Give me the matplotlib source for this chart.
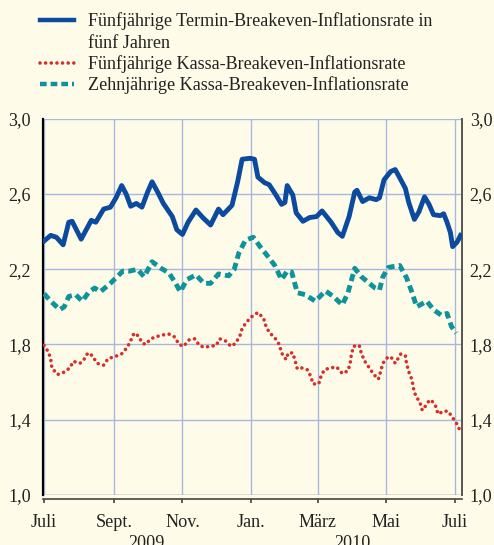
"""
Breakeven-Inflationsraten im Euroraum, Juli 2009 - Juli 2010
"""

import numpy as np
import matplotlib
matplotlib.use('Agg')
import matplotlib.pyplot as plt
import matplotlib.dates as mdates
import matplotlib.transforms as mtransforms
from matplotlib.lines import Line2D

START = np.datetime64('2009-07-01')

# Fünfjährige Termin-Breakeven-Inflationsrate in fünf Jahren (Tage seit 1.7.2009, Wert)
fwd_days = [0, 6, 11, 17, 22, 25, 33, 42, 46, 53, 59, 64, 69, 73, 77, 82, 87, 92, 96,
            101, 106, 114, 118, 123, 128, 135, 141, 148, 155, 159, 167, 172, 176, 183,
            187, 190, 196, 200, 206, 211, 214, 216, 221, 224, 230, 236, 242, 247, 255,
            261, 265, 271, 276, 278, 283, 289, 295, 298, 302, 308, 312, 317, 321, 324,
            329, 333, 338, 342, 346, 352, 355, 358, 361, 363, 367, 370]
fwd_vals = [2.35, 2.38, 2.37, 2.33, 2.45, 2.455, 2.36, 2.46, 2.45, 2.52, 2.53, 2.58,
            2.645, 2.60, 2.535, 2.55, 2.53, 2.61, 2.665, 2.61, 2.55, 2.48, 2.41, 2.385,
            2.45, 2.515, 2.475, 2.435, 2.52, 2.49, 2.54, 2.665, 2.785, 2.79, 2.785, 2.69,
            2.66, 2.65, 2.595, 2.545, 2.555, 2.645, 2.595, 2.50, 2.455, 2.475, 2.48,
            2.51, 2.45, 2.395, 2.375, 2.48, 2.61, 2.62, 2.56, 2.58, 2.57, 2.58, 2.675,
            2.72, 2.73, 2.675, 2.63, 2.555, 2.465, 2.505, 2.585, 2.545, 2.49, 2.485,
            2.495, 2.45, 2.395, 2.32, 2.345, 2.38]

# Fünfjährige Kassa-Breakeven-Inflationsrate
spot5_days = [0, 4, 6, 7, 12, 17, 23, 26, 32, 35, 39, 43, 47, 53, 57, 63, 69, 74, 77,
              80, 84, 87, 90, 95, 99, 105, 111, 116, 120, 124, 129, 134, 138, 142, 148,
              153, 156, 161, 166, 170, 174, 176, 180, 185, 190, 195, 197, 200, 205, 209,
              211, 215, 217, 221, 223, 225, 229, 234, 237, 239, 244, 246, 249, 254, 260,
              265, 270, 272, 273, 275, 280, 282, 285, 289, 293, 297, 299, 301, 305, 308,
              312, 314, 317, 321, 322, 324, 327, 328, 330, 334, 336, 338, 342, 344, 348,
              350, 355, 359, 363, 367, 370]
spot5_vals = [1.795, 1.76, 1.72, 1.675, 1.64, 1.65, 1.675, 1.71, 1.70, 1.715, 1.755,
              1.74, 1.70, 1.69, 1.725, 1.735, 1.75, 1.785, 1.82, 1.86, 1.845, 1.81, 1.80,
              1.83, 1.84, 1.85, 1.855, 1.84, 1.80, 1.79, 1.825, 1.83, 1.795, 1.785, 1.79,
              1.795, 1.83, 1.82, 1.79, 1.805, 1.845, 1.885, 1.92, 1.95, 1.97, 1.94, 1.90,
              1.865, 1.835, 1.80, 1.755, 1.72, 1.755, 1.755, 1.715, 1.67, 1.675, 1.665,
              1.63, 1.59, 1.59, 1.63, 1.665, 1.675, 1.68, 1.645, 1.66, 1.70, 1.745, 1.79,
              1.795, 1.75, 1.71, 1.675, 1.64, 1.615, 1.655, 1.70, 1.73, 1.735, 1.70,
              1.72, 1.75, 1.74, 1.70, 1.655, 1.61, 1.57, 1.53, 1.49, 1.45, 1.465, 1.50,
              1.505, 1.47, 1.43, 1.445, 1.445, 1.41, 1.375, 1.335]

# Zehnjährige Kassa-Breakeven-Inflationsrate
spot10_days = [0, 6, 14, 18, 22, 28, 34, 40, 45, 50, 59, 70, 76, 83, 89, 96, 104, 111,
               117, 121, 127, 135, 142, 148, 155, 164, 169, 173, 179, 186, 192, 198, 205,
               211, 216, 220, 225, 232, 241, 250, 257, 265, 270, 276, 282, 294, 298, 301,
               306, 316, 322, 327, 331, 340, 346, 353, 358, 362, 366]
spot10_vals = [2.07, 2.03, 1.985, 2.0, 2.055, 2.065, 2.03, 2.08, 2.10, 2.08, 2.125,
               2.19, 2.19, 2.20, 2.16, 2.24, 2.205, 2.18, 2.125, 2.08, 2.145, 2.17, 2.125,
               2.125, 2.175, 2.165, 2.20, 2.285, 2.355, 2.37, 2.32, 2.275, 2.22, 2.145,
               2.19, 2.185, 2.075, 2.065, 2.03, 2.085, 2.055, 2.01, 2.075, 2.205, 2.16,
               2.10, 2.09, 2.16, 2.21, 2.22, 2.155, 2.075, 2.0, 2.03, 1.985, 1.955, 1.965,
               1.895, 1.86]

y_ticks = [1.0, 1.4, 1.8, 2.2, 2.6, 3.0]
month_dates = ['2009-07-01', '2009-09-01', '2009-11-01', '2010-01-01',
               '2010-03-01', '2010-05-01', '2010-07-01']
month_labels = ['Juli', 'Sept.', 'Nov.', 'Jan.', 'März', 'Mai', 'Juli']
year_labels = ['2009', '2010']

legend_lines = ['Fünfjährige Termin-Breakeven-Inflationsrate in',
                'fünf Jahren',
                'Fünfjährige Kassa-Breakeven-Inflationsrate',
                'Zehnjährige Kassa-Breakeven-Inflationsrate']

BG = '#fefce8'
BLUE = '#0b4a9e'
RED = '#d4302a'
TEAL = '#0e939b'
GRID = '#a9b6e2'
FS = 13.1

plt.rcParams['font.family'] = ['Liberation Serif', 'DejaVu Serif']


def to_dates(days):
    return START + np.array(days, dtype='timedelta64[D]')


def main():
    fig = plt.figure(figsize=(4.94, 5.45), dpi=100, facecolor=BG)
    ax = fig.add_axes([0.087, 0.092, 0.848, 0.690], facecolor=BG)

    ax.plot(to_dates(fwd_days), fwd_vals, color=BLUE, lw=3.5,
            solid_joinstyle='round', zorder=4)
    ax.plot(to_dates(spot5_days), spot5_vals, color=RED, lw=2.6,
            linestyle=(0, (0.01, 1.55)), dash_capstyle='round', zorder=3)
    ax.plot(to_dates(spot10_days), spot10_vals, color=TEAL, lw=3.5,
            linestyle=(0, (1.5, 0.9)), zorder=3)

    # axes limits and ticks
    ax.set_ylim(1.0, 3.0)
    ax.set_yticks(y_ticks)
    ax.set_yticklabels([f'{v:.1f}'.replace('.', ',') for v in y_ticks])
    left = mdates.date2num(np.datetime64('2009-07-01')) - 0.9
    right = mdates.date2num(np.datetime64('2009-07-01')) + 371.2
    ax.set_xlim(left, right)
    ax.set_xticks(mdates.date2num(np.array(month_dates, dtype='datetime64[D]')))
    ax.set_xticklabels(month_labels)

    ax.grid(True, color=GRID, lw=1.0)
    ax.set_axisbelow(True)

    ax.tick_params(axis='y', left=False, right=False, labelleft=True,
                   labelright=True, labelsize=FS, pad=5, colors='#222222')
    ax.tick_params(axis='x', direction='out', length=3, width=1.2,
                   color='#444444', labelsize=FS, pad=8, labelcolor='#222222')
    for i, tick in enumerate(ax.xaxis.get_major_ticks()):
        if month_labels[i] == 'Jan.':
            tick.tick1line.set_markersize(8)
    # right-hand labels sit a little closer to the axis
    shift = mtransforms.ScaledTranslation(-4 / 100, 0, fig.dpi_scale_trans)
    for tick in ax.yaxis.get_major_ticks():
        tick.label2.set_transform(tick.label2.get_transform() + shift)

    ax.spines['top'].set_visible(False)
    ax.spines['left'].set_color('black')
    ax.spines['left'].set_linewidth(1.6)
    ax.spines['right'].set_color('#555555')
    ax.spines['right'].set_linewidth(1.4)
    ax.spines['bottom'].set_position(('outward', 3))
    ax.spines['bottom'].set_color('#444444')
    ax.spines['bottom'].set_linewidth(1.2)
    ax.axhline(1.0, color='#999999', lw=1.0, zorder=2)

    # year labels below month labels (partly cut off at the bottom edge)
    fig.text(146 / 494, 1 - 535 / 545, year_labels[0], ha='center', va='top',
             fontsize=FS, color='#222222')
    fig.text(352 / 494, 1 - 535 / 545, year_labels[1], ha='center', va='top',
             fontsize=FS, color='#222222')

    # legend drawn by hand at the top
    handle_rows = [20, 63, 84]
    styles = [dict(color=BLUE, lw=3.2),
              dict(color=RED, lw=2.6, linestyle=(0, (0.01, 1.55)), dash_capstyle='round'),
              dict(color=TEAL, lw=3.2, linestyle=(0, (1.5, 0.9)))]
    for y, st in zip(handle_rows, styles):
        yf = 1 - y / 545
        fig.add_artist(Line2D([40 / 494, 74 / 494], [yf, yf], **st))
    for y, txt in zip([20, 42, 63, 84], legend_lines):
        fig.text(88 / 494, 1 - (y + 6) / 545, txt, ha='left', va='baseline',
                 fontsize=FS, color='#222222')

    fig.savefig('out.png', dpi=100, facecolor=BG)


if __name__ == '__main__':
    main()
